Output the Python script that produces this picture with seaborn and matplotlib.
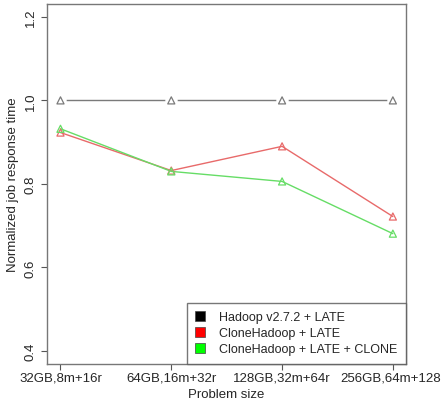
import numpy as np
import pandas as pd
import matplotlib
matplotlib.use("Agg")
import matplotlib.pyplot as plt
import seaborn as sb
from matplotlib.patches import Patch

sizes = ["32GB,8m+16r", "64GB,16m+32r", "128GB,32m+64r", "256GB,64m+128r"]
hadoop_late = [1.0, 1.0, 1.0, 1.0]
clone_late = [0.923, 0.832, 0.890, 0.722]
clone_late_clone = [0.932, 0.830, 0.806, 0.681]

series = ["Hadoop v2.7.2 + LATE", "CloneHadoop + LATE", "CloneHadoop + LATE + CLONE"]
line_colors = ["#7a7a7a", "#e86a6a", "#66dd66"]
legend_colors = ["black", "red", "#00ff00"]

df = pd.DataFrame({
    "x": list(range(len(sizes))) * 3,
    "y": hadoop_late + clone_late + clone_late_clone,
    "series": [s for s in series for _ in sizes],
})

sb.set_style("white")
plt.rcParams["font.family"] = ["Liberation Sans", "DejaVu Sans"]

fig, ax = plt.subplots(figsize=(4.41, 4.06), dpi=100)
fig.subplots_adjust(left=0.107, right=0.921, top=0.988, bottom=0.101)

for i, (s, c) in enumerate(zip(series, line_colors)):
    d = df[df.series == s]
    sb.lineplot(data=d, x="x", y="y", ax=ax, color=c, linewidth=1.0, legend=False, zorder=2)
    if i == 0:
        # gaps round the points, like R type="b"
        sb.scatterplot(data=d, x="x", y="y", ax=ax, color="white", s=80,
                       marker="o", linewidth=0, legend=False, zorder=3)
    sb.scatterplot(data=d, x="x", y="y", ax=ax, marker="^", s=26,
                   facecolor="none", edgecolor=c, linewidth=0.9, legend=False, zorder=4)

ax.set_xlim(-0.12, 3.12)
ax.set_ylim(0.369, 1.231)
ax.set_xticks(range(len(sizes)))
ax.set_xticklabels(sizes, fontsize=9.5)
ax.set_yticks([0.4, 0.6, 0.8, 1.0, 1.2])
ax.set_yticklabels(["0.4", "0.6", "0.8", "1.0", "1.2"], rotation=90, va="center", fontsize=9.5)
ax.set_xlabel("Problem size", fontsize=9.5, labelpad=3)
ax.set_ylabel("Normalized job response time", fontsize=9.5)
ax.tick_params(axis="both", direction="out", length=4, width=0.8, color="#555555",
               bottom=True, left=True)
ax.tick_params(axis="x", pad=1.5)
for sp in ax.spines.values():
    sp.set_color("#777777")
    sp.set_linewidth(1.0)

handles = [Patch(facecolor=c, edgecolor="#444444", linewidth=0.5) for c in legend_colors]
leg = ax.legend(handles, series, loc="lower right", fontsize=9, frameon=True,
                fancybox=False, edgecolor="#555555", borderaxespad=0,
                handlelength=0.8, handleheight=0.8, handletextpad=1.1,
                labelspacing=0.3, borderpad=0.7)
leg.get_frame().set_linewidth(1.0)

plt.savefig("out.png", dpi=100)
